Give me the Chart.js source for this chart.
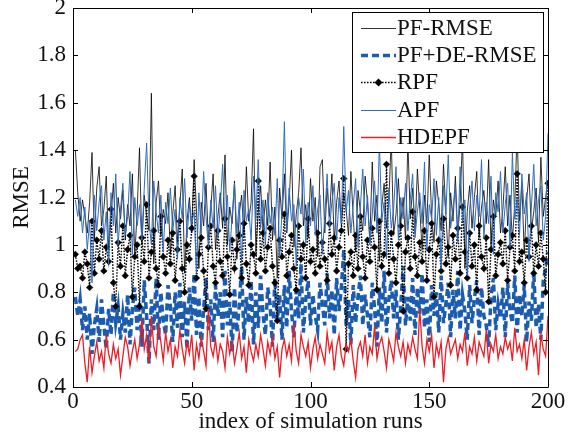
<!DOCTYPE html>
<html>
<head>
<meta charset="utf-8">
<script src="https://cdn.jsdelivr.net/npm/chart.js@4.4.1/dist/chart.umd.min.js"></script>
<style>
  html, body { margin: 0; padding: 0; background: #fff; }
  #wrap { width: 570px; height: 438px; }
</style>
</head>
<body>
<div id="wrap"><canvas id="rmseChart" width="570" height="438"></canvas></div>
<script>
// run index 1..200
const runs = [];
for (let i = 1; i <= 200; i++) runs.push(i);

const xTicks = [0, 50, 100, 150, 200];
const yTicks = [0.4, 0.6, 0.8, 1, 1.2, 1.4, 1.6, 1.8, 2];

const pfRmse = [
  1.40, 1.22, 1.10, 1.19, 1.12, 1.05, 1.18, 1.39, 1.02, 1.24, 1.33, 1.08, 1.15, 1.29, 0.98, 1.12, 1.26, 1.05, 1.20, 1.11,
  1.23, 1.02, 1.17, 1.08, 1.30, 0.95, 1.14, 1.41, 1.00, 1.21, 1.12, 1.06, 1.64, 0.92, 1.18, 1.27, 1.04, 1.15, 1.09, 1.22,
  0.96, 1.13, 1.25, 1.01, 1.17, 1.32, 0.88, 1.10, 1.20, 1.05, 1.36, 1.14, 0.90, 1.18, 1.08, 1.26, 1.02, 1.15, 1.30, 0.98,
  1.12, 1.22, 1.07, 1.38, 1.00, 1.16, 1.09, 1.27, 0.94, 1.13, 1.21, 1.04, 1.33, 1.10, 1.18, 1.49, 0.97, 1.14, 1.25, 1.06,
  1.19, 1.08, 1.35, 1.02, 1.16, 0.86, 1.24, 1.11, 1.30, 1.05, 1.18, 1.40, 0.99, 1.13, 1.22, 1.41, 1.08, 1.17, 1.03, 1.28,
  1.10, 1.20, 0.95, 1.33, 1.36, 1.05, 1.24, 1.12, 1.30, 1.01, 1.18, 1.27, 1.08, 1.22, 1.15, 1.04, 1.31, 1.11, 0.97, 1.23,
  1.14, 1.06, 1.29, 1.18, 1.02, 1.35, 1.10, 1.21, 0.93, 1.16, 1.26, 1.07, 1.19, 1.45, 1.04, 1.13, 1.28, 1.09, 1.20, 1.02,
  1.44, 1.11, 1.24, 1.05, 1.32, 1.15, 0.98, 1.21, 1.09, 1.38, 1.12, 1.01, 1.27, 1.17, 1.06, 1.34, 1.13, 0.95, 1.22, 1.10,
  1.29, 1.04, 1.18, 1.46, 0.90, 1.14, 1.25, 1.07, 1.20, 1.31, 1.03, 1.16, 1.23, 1.09, 1.36, 1.00, 1.19, 1.12, 1.27, 1.05,
  1.15, 1.33, 1.08, 1.21, 1.02, 1.17, 1.48, 1.10, 1.26, 0.96, 1.19, 1.30, 1.06, 1.14, 1.24, 1.01, 1.37, 1.12, 1.20, 1.27
];

const pfDeRmse = [
  0.78, 0.70, 0.77, 0.64, 0.74, 0.60, 0.71, 0.54, 0.66, 0.73, 0.59, 0.77, 0.66, 0.56, 0.73, 0.62, 0.80, 0.67, 0.74, 0.60,
  0.71, 0.63, 0.79, 0.58, 0.73, 0.82, 0.64, 0.76, 0.57, 0.85, 0.70, 0.50, 0.77, 0.64, 0.86, 0.60, 0.80, 0.68, 0.62, 0.83,
  0.74, 0.59, 0.80, 0.65, 0.84, 0.61, 0.76, 0.56, 0.82, 0.68, 0.88, 0.62, 0.78, 0.57, 0.73, 0.86, 0.64, 0.77, 0.59, 0.83,
  0.70, 0.80, 0.61, 0.89, 0.66, 0.76, 0.55, 0.82, 0.63, 0.74, 0.91, 0.60, 0.78, 0.67, 0.85, 0.58, 0.80, 0.65, 0.87, 0.71,
  0.62, 0.82, 0.75, 0.57, 0.86, 0.68, 0.79, 0.60, 0.83, 0.65, 0.89, 0.72, 0.61, 0.81, 0.69, 0.92, 0.63, 0.77, 0.85, 0.66,
  0.79, 0.70, 0.64, 0.84, 0.75, 0.66, 0.88, 0.69, 0.81, 0.62, 0.86, 0.72, 0.82, 0.98, 0.66, 0.77, 0.58, 0.83, 0.67, 0.78,
  0.87, 0.66, 0.79, 0.70, 0.61, 0.84, 0.73, 0.57, 0.82, 0.67, 0.89, 0.63, 0.77, 0.85, 0.69, 0.81, 0.60, 0.74, 0.91, 0.66,
  0.78, 0.68, 0.86, 0.62, 0.82, 0.71, 0.88, 0.65, 0.77, 0.59, 0.83, 0.70, 0.80, 0.63, 0.87, 0.67, 0.75, 0.84, 0.61, 0.81,
  0.69, 0.89, 0.64, 0.79, 0.72, 0.60, 0.83, 0.67, 0.77, 0.85, 0.62, 0.82, 0.70, 0.66, 0.57, 0.78, 0.86, 0.64, 0.75, 0.69,
  0.82, 0.61, 0.84, 0.72, 0.67, 0.87, 0.63, 0.79, 0.70, 0.83, 0.59, 0.76, 0.68, 0.89, 0.65, 0.75, 0.60, 0.85, 0.90, 0.97
];

const rpf = [
  0.96, 0.90, 0.91, 0.86, 0.97, 0.92, 0.82, 1.10, 0.88, 1.02, 0.94, 1.06, 0.89, 0.99, 0.93, 1.15, 0.84, 0.74, 1.01, 0.91,
  1.08, 0.87, 0.98, 1.04, 0.78, 0.95, 1.00, 0.74, 1.03, 0.93, 1.17, 0.86, 0.97, 1.06, 0.90, 0.83, 1.12, 0.95, 0.88, 1.02,
  0.92, 1.05, 0.85, 0.98, 1.10, 0.90, 0.80, 1.00, 0.94, 1.07, 1.29, 0.86, 0.96, 1.03, 0.89, 0.73, 0.99, 1.08, 0.91, 0.84,
  1.06, 0.93, 0.87, 1.11, 0.95, 0.79, 1.02, 0.90, 0.98, 1.04, 0.86, 1.09, 0.92, 0.83, 1.00, 0.96, 0.88, 1.27, 0.94, 1.05,
  0.89, 0.99, 1.07, 0.91, 0.84, 0.68, 1.02, 0.95, 1.13, 0.87, 0.97, 1.04, 0.90, 0.81, 1.08, 0.94, 1.00, 0.86, 1.11, 0.93,
  0.98, 0.88, 1.05, 0.91, 1.01, 0.94, 0.85, 1.09, 0.96, 1.03, 0.89, 0.99, 1.06, 1.28, 0.56, 0.92, 0.97, 0.87, 1.04, 0.90,
  1.12, 0.95, 0.86, 1.02, 0.93, 1.07, 0.99, 0.81, 1.10, 0.91, 0.96, 1.34, 0.88, 1.05, 0.94, 0.84, 1.00, 1.08, 0.72, 0.97,
  1.03, 0.90, 1.14, 0.95, 0.87, 1.01, 0.93, 1.06, 0.85, 0.98, 1.09, 0.78, 0.96, 1.02, 0.89, 1.11, 0.92, 0.99, 0.83, 1.04,
  0.94, 1.07, 0.88, 1.16, 0.97, 0.86, 1.05, 0.91, 1.00, 0.81, 1.08, 0.95, 0.90, 1.03, 0.76, 0.98, 1.12, 0.87, 0.96, 1.01,
  0.92, 1.06, 0.85, 0.99, 1.04, 0.89, 1.30, 0.93, 0.97, 0.84, 1.02, 0.95, 1.08, 0.88, 1.00, 0.91, 1.05, 0.94, 0.80, 1.26
];

const apf = [
  1.19, 1.12, 1.20, 1.05, 1.16, 0.98, 1.10, 0.84, 1.21, 1.06, 1.18, 1.25, 1.02, 1.14, 0.92, 1.22, 1.08, 1.30, 1.00, 1.15,
  1.26, 1.04, 1.12, 1.31, 0.96, 1.20, 1.08, 1.17, 1.02, 1.24, 1.43, 1.10, 1.00, 1.27, 1.14, 1.05, 1.21, 0.97, 1.18, 1.09,
  1.24, 1.06, 1.15, 0.94, 1.20, 1.11, 1.28, 1.03, 1.17, 1.09, 1.14, 0.88, 1.22, 1.05, 1.31, 1.12, 0.99, 1.19, 1.07, 1.25,
  1.03, 1.16, 1.34, 1.08, 1.21, 0.97, 1.12, 1.26, 1.05, 1.18, 0.93, 1.23, 1.10, 1.15, 1.02, 1.29, 1.11, 1.36, 1.07, 1.19,
  1.00, 1.22, 1.09, 1.16, 1.04, 1.28, 0.95, 1.14, 1.52, 1.06, 1.24, 1.10, 1.17, 0.91, 1.20, 1.13, 1.32, 1.01, 1.18, 1.08,
  1.25, 1.04, 1.15, 1.21, 0.96, 1.12, 1.30, 1.07, 1.18, 1.26, 1.02, 1.20, 1.09, 1.50, 1.14, 1.23, 1.05, 1.17, 1.28, 0.99,
  1.16, 1.32, 1.08, 1.21, 1.00, 1.13, 1.27, 1.05, 1.43, 1.10, 1.18, 0.94, 1.24, 1.07, 1.15, 1.33, 1.02, 1.20, 1.11, 1.26,
  1.06, 1.19, 1.30, 1.03, 1.14, 1.22, 1.09, 1.35, 0.98, 1.17, 1.11, 1.28, 1.04, 1.20, 0.90, 1.25, 1.13, 1.38, 1.07, 1.16,
  1.24, 1.01, 1.33, 1.10, 1.19, 0.87, 1.15, 1.27, 1.06, 1.21, 1.12, 1.36, 1.03, 1.18, 1.09, 1.29, 0.96, 1.22, 1.14, 1.31,
  1.05, 1.17, 1.26, 0.99, 1.39, 1.11, 1.20, 1.04, 1.30, 1.13, 1.22, 0.93, 1.16, 1.34, 1.08, 1.19, 1.25, 1.02, 1.12, 1.47
];

const hdepf = [
  0.55, 0.56, 0.60, 0.62, 0.50, 0.42, 0.57, 0.46, 0.53, 0.59, 0.51, 0.55, 0.48, 0.62, 0.54, 0.50, 0.58, 0.52, 0.56, 0.45,
  0.53, 0.61, 0.57, 0.49, 0.55, 0.60, 0.52, 0.58, 0.69, 0.56, 0.62, 0.50, 0.70, 0.57, 0.53, 0.66, 0.59, 0.51, 0.63, 0.55,
  0.60, 0.48, 0.57, 0.53, 0.64, 0.56, 0.50, 0.59, 0.54, 0.62, 0.47, 0.58, 0.52, 0.61, 0.55, 0.49, 0.73, 0.57, 0.53, 0.60,
  0.51, 0.58, 0.55, 0.48, 0.61, 0.54, 0.59, 0.50, 0.56, 0.63, 0.52, 0.57, 0.46, 0.60, 0.55, 0.51, 0.58, 0.53, 0.62, 0.56,
  0.49, 0.59, 0.54, 0.61, 0.52, 0.57, 0.44, 0.56, 0.60, 0.53, 0.58, 0.51, 0.67, 0.55, 0.50, 0.62, 0.57, 0.53, 0.59, 0.48,
  0.56, 0.61, 0.52, 0.58, 0.54, 0.50, 0.63, 0.55, 0.59, 0.47, 0.57, 0.62, 0.53, 0.49, 0.58, 0.55, 0.60, 0.51, 0.44, 0.56,
  0.59, 0.53, 0.62, 0.50, 0.57, 0.54, 0.66, 0.52, 0.58, 0.61, 0.55, 0.48, 0.60, 0.56, 0.51, 0.63, 0.57, 0.53, 0.59, 0.50,
  0.58, 0.54, 0.61, 0.56, 0.52, 0.73, 0.57, 0.50, 0.60, 0.55, 0.62, 0.48, 0.58, 0.53, 0.59, 0.42, 0.56, 0.61, 0.54, 0.57,
  0.60, 0.52, 0.58, 0.55, 0.63, 0.49, 0.57, 0.54, 0.61, 0.51, 0.59, 0.56, 0.53, 0.64, 0.50, 0.58, 0.55, 0.62, 0.52, 0.57,
  0.54, 0.61, 0.56, 0.59, 0.51, 0.65, 0.55, 0.58, 0.52, 0.60, 0.47, 0.57, 0.63, 0.54, 0.59, 0.45, 0.62, 0.56, 0.53, 0.70
];

const FONT = "'Liberation Serif', 'Times New Roman', serif";
const BLUE_DASH = '#1b5cb0';
const BLUE = '#2f6cc0';
const RED = '#ee1c25';

// MATLAB-like box, inward ticks and an in-plot legend
const matlabFrame = {
  id: 'matlabFrame',
  afterDatasetsDraw(chart) {
    const ctx = chart.ctx;
    const { left, right, top, bottom } = chart.chartArea;
    const xs = chart.scales.x, ys = chart.scales.y;
    ctx.save();
    ctx.strokeStyle = '#000';
    ctx.lineWidth = 1;
    ctx.setLineDash([]);
    ctx.beginPath();
    xTicks.forEach(t => {
      const px = Math.round(xs.getPixelForValue(t)) + 0.5;
      ctx.moveTo(px, bottom); ctx.lineTo(px, bottom - 5);
      ctx.moveTo(px, top); ctx.lineTo(px, top + 5);
    });
    yTicks.forEach(t => {
      const py = Math.round(ys.getPixelForValue(t)) + 0.5;
      ctx.moveTo(left, py); ctx.lineTo(left + 5, py);
      ctx.moveTo(right, py); ctx.lineTo(right - 5, py);
    });
    ctx.stroke();

    // legend box
    const lx = 352.5, ly = 12.5, lw = 191, lh = 140;
    ctx.fillStyle = '#fff';
    ctx.fillRect(lx, ly, lw, lh);
    ctx.strokeRect(lx, ly, lw, lh);

    const rowY = [28, 55, 82, 110, 137];
    ctx.font = '23px ' + FONT;
    ctx.textBaseline = 'middle';
    ctx.textAlign = 'left';
    chart.data.datasets.forEach((ds, i) => {
      const y = rowY[i] + 0.5;
      ctx.save();
      ctx.strokeStyle = ds.borderColor;
      ctx.lineWidth = ds.borderWidth;
      ctx.setLineDash(ds.borderDash || []);
      ctx.beginPath();
      ctx.moveTo(361, y); ctx.lineTo(396, y);
      ctx.stroke();
      if (ds.pointRadius > 0) {
        ctx.setLineDash([]);
        ctx.fillStyle = '#000';
        ctx.beginPath();
        ctx.moveTo(378.5, y - 4); ctx.lineTo(382.5, y); ctx.lineTo(378.5, y + 4); ctx.lineTo(374.5, y);
        ctx.closePath();
        ctx.fill();
      }
      ctx.restore();
      ctx.fillStyle = '#111';
      ctx.fillText(ds.label, 397, rowY[i] + 1);
    });

    ctx.beginPath();
    ctx.rect(left + 0.5, top + 0.5, right - left, bottom - top);
    ctx.stroke();
    ctx.restore();
  }
};

new Chart(document.getElementById('rmseChart'), {
  type: 'line',
  data: {
    labels: runs,
    datasets: [
      { label: 'PF-RMSE', data: pfRmse, borderColor: '#000', borderWidth: 0.8, pointRadius: 0, order: 5 },
      { label: 'PF+DE-RMSE', data: pfDeRmse, borderColor: BLUE_DASH, borderWidth: 3.5, borderDash: [7, 4], pointRadius: 0, order: 4 },
      { label: 'RPF', data: rpf, borderColor: '#000', borderWidth: 1.4, borderDash: [1.6, 1.4],
        pointRadius: 3.3, pointStyle: 'rectRot', pointBackgroundColor: '#000', pointBorderColor: '#000', pointBorderWidth: 0.5, order: 3 },
      { label: 'APF', data: apf, borderColor: BLUE, borderWidth: 1, pointRadius: 0, order: 2 },
      { label: 'HDEPF', data: hdepf, borderColor: RED, borderWidth: 1.3, pointRadius: 0, order: 1 }
    ]
  },
  options: {
    responsive: false,
    animation: false,
    devicePixelRatio: 1,
    layout: { padding: { top: 8, right: 22, left: 0, bottom: 0 } },
    elements: { line: { tension: 0 } },
    plugins: { legend: { display: false }, tooltip: { enabled: false } },
    scales: {
      x: {
        type: 'linear',
        min: 0, max: 200,
        afterBuildTicks: s => { s.ticks = xTicks.map(v => ({ value: v })); },
        grid: { display: false, drawTicks: false },
        border: { display: false },
        ticks: { color: '#111', font: { family: FONT, size: 23 }, padding: 1, maxRotation: 0 },
        title: { display: true, text: 'index of simulation runs', color: '#111', font: { family: FONT, size: 23 }, padding: { top: 0, bottom: 2 } },
        afterFit: s => { s.height = 51; s.paddingLeft = 0; s.paddingRight = 0; }
      },
      y: {
        min: 0.4, max: 2,
        afterBuildTicks: s => { s.ticks = yTicks.map(v => ({ value: v })); },
        grid: { display: false, drawTicks: false },
        border: { display: false },
        ticks: { color: '#111', font: { family: FONT, size: 23 }, padding: 7,
          callback: v => String(Number(v.toFixed(1))) },
        title: { display: true, text: 'RMSE', color: '#111', font: { family: FONT, size: 23 }, padding: { top: 8, bottom: 0 } },
        afterFit: s => { s.width = 73; s.paddingTop = 0; s.paddingBottom = 0; }
      }
    }
  },
  plugins: [matlabFrame]
});
</script>
</body>
</html>
